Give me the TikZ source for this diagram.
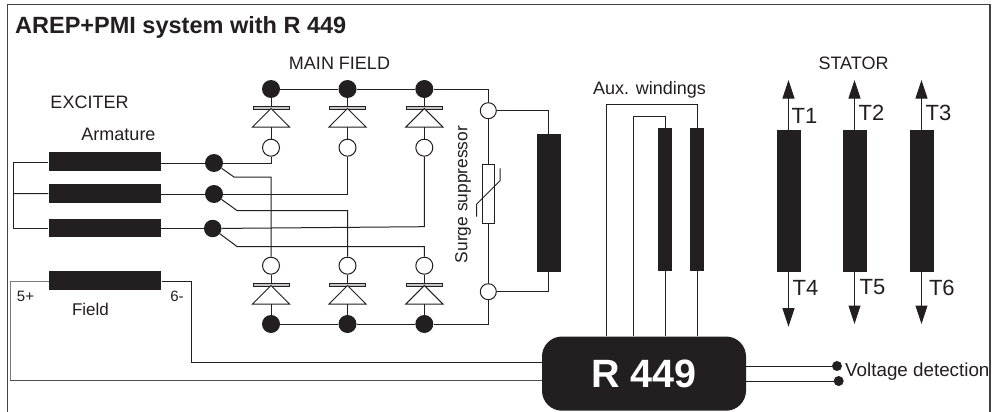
\documentclass[tikz,border=0pt]{standalone}
\usepackage{fontspec}
\setmainfont{Liberation Sans}
\usetikzlibrary{arrows.meta}
\definecolor{ink}{HTML}{231F20}
\newcommand{\fs}[1]{\fontsize{#1}{#1}\selectfont}
\tikzset{
  wire/.style={draw=ink,line width=1pt,line join=miter},
  solidblock/.style={rectangle,fill=ink,draw=none,inner sep=0pt},
  hdot/.style={circle,fill=ink,draw=none,inner sep=0pt,minimum size=18pt},
  odot/.style={circle,fill=white,draw=ink,line width=1pt,inner sep=0pt,minimum size=17pt},
  vdot/.style={circle,fill=ink,draw=none,inner sep=0pt,minimum size=10pt},
  bar/.style={rectangle,fill=gray!45,draw=ink,line width=.8pt,inner sep=0pt,minimum width=36pt,minimum height=3pt},
  armblock/.style={solidblock,minimum width=112.5pt,minimum height=18.5pt},
  statorblock/.style={solidblock,minimum width=24pt,minimum height=142pt},
  auxblock/.style={solidblock,minimum width=14pt,minimum height=142.5pt},
  lbl/.style={text=ink,inner sep=0pt,font=\fs{18}},
  tlbl/.style={text=ink,inner sep=0pt,anchor=west,font=\fs{22}},
  tip/.style={-{Triangle[length=18.5pt,width=12pt]}},
}
\begin{document}
\begin{tikzpicture}[x=1pt,y=-1pt]
\useasboundingbox (0,0) rectangle (998,412);
\fill[white] (0,0) rectangle (998,412);
% frame
\coordinate (fbl) at (7.3,412);
\coordinate (ftl) at (7.3,4.7);
\coordinate (ftr) at (990,4.7);
\coordinate (fbr) at (990,412);
\draw[draw=ink!85,line width=1.3pt] (fbl) -- (ftl) -- (ftr) -- (fbr);
% texts
\node[lbl,anchor=west,font=\fs{23.5}\bfseries] (title) at (15,27) {AREP+PMI system with R 449};
\node[lbl] (mainfield) at (339.5,63) {MAIN FIELD};
\node[lbl] (stator) at (853.5,63) {STATOR};
\node[lbl] (exciter) at (89.5,102.5) {EXCITER};
\node[lbl] (armature) at (118.5,134) {Armature};
\node[lbl,font=\fs{17}] (field) at (90.5,309) {Field};
\node[lbl,font=\fs{15}] (fiveplus) at (25.5,296.5) {5+};
\node[lbl,font=\fs{15}] (sixminus) at (177,296) {6-};
\node[lbl,font=\fs{17.4},rotate=90] (surge) at (463,194.5) {Surge suppressor};
\node[lbl] (aux) at (649.5,90) {Aux. windings};
\node[lbl,anchor=west,font=\fs{18.8}] (volt) at (845,372) {Voltage detection};
% exciter armature
\node[armblock] (a1) at (104.8,161.7) {};
\node[armblock] (a2) at (104.8,193.7) {};
\node[armblock] (a3) at (104.8,228) {};
\node[hdot] (d1) at (214,163) {};
\node[hdot] (d2) at (214,194) {};
\node[hdot,minimum size=17.5pt] (d3) at (212.7,228.5) {};
\coordinate (bus1) at (13.5,162.5);
\coordinate (bus3) at (13.5,228);
\draw[wire] (a1.west |- bus1) -- (bus1) -- (bus3) -- (a3.west |- bus3);
\draw[wire] (13.5,193.5) -- (a2.west);
\draw[wire] (a1.east |- d1) -- (d1);
\draw[wire] (a2.east |- d2) -- (d2);
\draw[wire] (a3.east |- d3) -- (d3);
% main rectifier
\foreach \n/\x in {1/271,2/347.5,3/424.3}{
  \node[hdot] (td\n) at (\x,89) {};
  \node[bar] (tbar\n) at (\x,107.7) {};
  \coordinate (tapex\n) at (\x,108.5);
  \coordinate (tbase\n) at (\x,127);
  \draw[wire,fill=white] (tapex\n) -- ++(18.5,18.5) -- ++(-37,0) -- cycle;
  \node[odot] (tc\n) at (\x,147.7) {};
  \draw[wire] (td\n) -- (tbar\n);
  \draw[wire] (tbase\n) -- (tc\n);
  \node[odot] (bc\n) at (\x,265.7) {};
  \node[bar] (bbar\n) at (\x,284.7) {};
  \coordinate (bapex\n) at (\x,285.5);
  \coordinate (bbase\n) at (\x,304);
  \draw[wire,fill=white] (bapex\n) -- ++(18.5,18.5) -- ++(-37,0) -- cycle;
  \node[hdot] (bd\n) at (\x,324) {};
  \draw[wire] (bc\n) -- (bbar\n);
  \draw[wire] (bbase\n) -- (bd\n);
}
% suppressor and field
\node[odot,minimum size=16pt] (ot) at (488.3,110.7) {};
\node[odot,minimum size=16pt] (ob) at (488.3,291.7) {};
\node[draw=ink,line width=1pt,fill=white,inner sep=0pt,minimum width=12pt,minimum height=59.3pt] (sup) at (488.3,193.7) {};
\coordinate (s1) at (476.7,216.7);
\coordinate (s2) at (476.7,204);
\coordinate (s3) at (500,180.7);
\coordinate (s4) at (500,168.3);
\draw[wire] (s1) -- (s2) -- (s3) -- (s4);
\node[solidblock,minimum width=24pt,minimum height=137.7pt] (mf) at (548.7,203.2) {};
\draw[wire] (td1) -- (td2);
\draw[wire] (td2) -- (td3);
\draw[wire] (td3) -| (ot);
\draw[wire] (bd1) -- (bd2);
\draw[wire] (bd2) -- (bd3);
\draw[wire] (bd3) -| (ob);
\draw[wire] (ot) -- (sup);
\draw[wire] (sup) -- (ob);
\draw[wire] (ot) -| (mf.north);
\draw[wire] (ob) -| (mf.south);
% armature to rectifier
\draw[wire] (d1) -- (tc1 |- d1) -- (tc1);
\draw[wire] (d2) -| (tc2);
\draw[wire] (d3) -- (tc3 |- 0,226.7) -- (tc3);
\coordinate (k1) at (234,177);
\coordinate (k2) at (237,210.5);
\coordinate (k3) at (237,246.5);
\draw[wire] (d1) -- (k1) -- (bc1 |- k1) -- (bc1);
\draw[wire] (d2) -- (k2) -- (bc2 |- k2) -- (bc2);
\draw[wire] (d3) -- (k3) -- (bc3 |- k3) -- (bc3);
% aux windings
\node[auxblock] (w1) at (665.3,199.5) {};
\node[auxblock] (w2) at (697,199.5) {};
\node[rectangle,fill=ink,draw=none,rounded corners=20pt,inner sep=0pt,minimum width=204pt,minimum height=74.2pt,text=white,font=\fs{39.5}\bfseries] (reg) at (644,373.6) {R 449};
\coordinate (o1) at (606,104.3);
\coordinate (o2) at (633.3,116);
\draw[wire] (o1 |- reg.north) -- (o1) -| (w2.north);
\draw[wire] (o2 |- reg.north) -- (o2) -| (w1.north);
\draw[wire] (w1.south) -- (w1.south |- reg.north);
\draw[wire] (w2.south) -- (w2.south |- reg.north);
% stator
\foreach \n/\x/\up/\dn in {1/788.5/80/326.7,2/854.5/80/324,3/921.5/80/324}{
  \node[statorblock] (st\n) at (\x,201.2) {};
  \coordinate (up\n) at (\x,\up);
  \coordinate (dn\n) at (\x,\dn);
  \draw[wire,tip,ink,fill=ink] (st\n.north) -- (up\n);
  \draw[wire,tip,ink,fill=ink] (st\n.south) -- (dn\n);
}
\node[tlbl] (t1) at (791.5,115.7) {T1};
\node[tlbl] (t2) at (858.5,113) {T2};
\node[tlbl] (t3) at (925.5,113) {T3};
\node[tlbl] (t4) at (792.5,288) {T4};
\node[tlbl] (t5) at (859.5,286.7) {T5};
\node[tlbl] (t6) at (928.8,287.7) {T6};
% field winding
\node[armblock] (fw) at (105.2,280.3) {};
\coordinate (fl) at (10.3,281.7);
\coordinate (fll) at (10.3,380);
\coordinate (fr) at (191.7,281.7);
\coordinate (frl) at (191.7,362.7);
\draw[wire,draw=ink!60] (fw.west |- fl) -- (fl) -- (fll);
\draw[wire,draw=ink!80] (fll) -- (reg.west |- fll);
\draw[wire] (fw.east |- fr) -- (fr) -- (frl) -- (reg.west |- frl);
% voltage detection
\node[vdot] (v1) at (837,366) {};
\node[vdot] (v2) at (838.7,381) {};
\draw[wire] (reg.east |- v1) -- (v1);
\draw[wire] (reg.east |- v2) -- (v2);
\end{tikzpicture}
\end{document}
